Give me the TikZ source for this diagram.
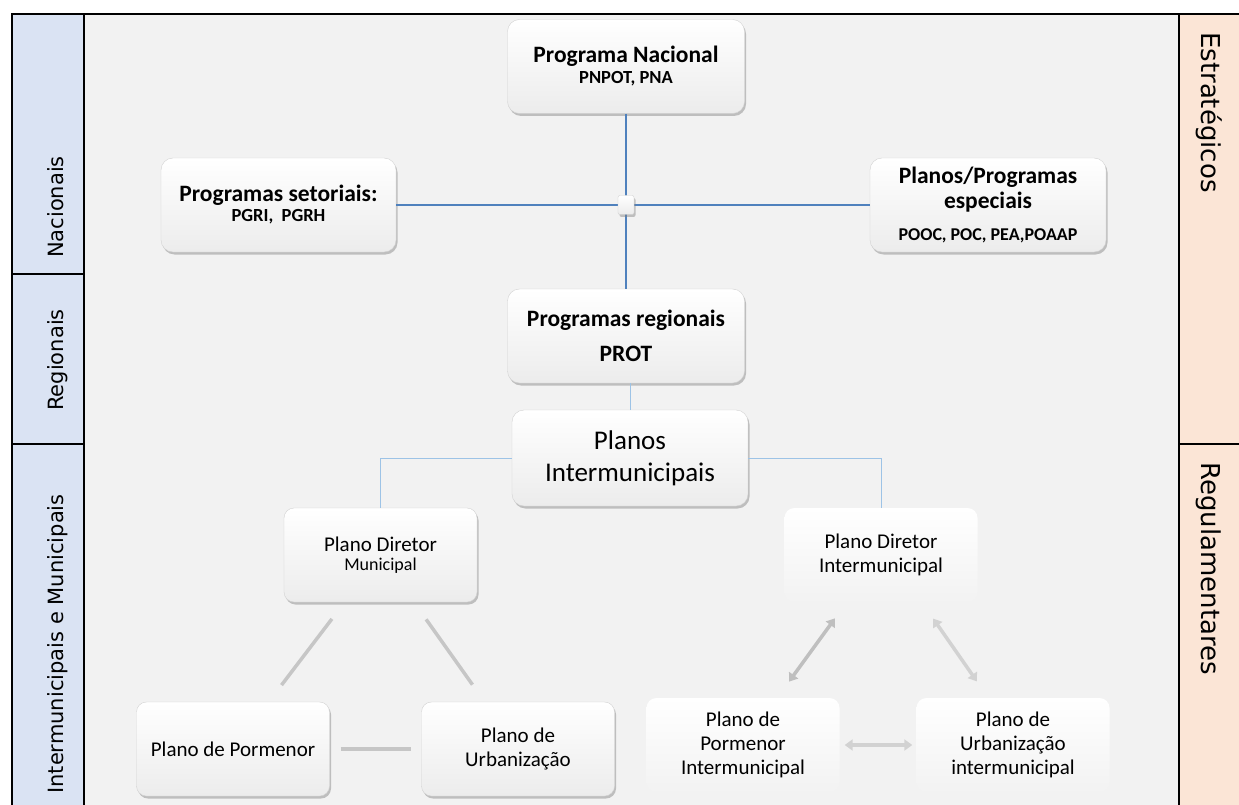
\documentclass[tikz,border=0pt]{standalone}
\usepackage{fontspec}
\setmainfont{Carlito}
\newfontfamily\ladofont{DejaVu Sans}
\usetikzlibrary{arrows.meta, shadows}

\definecolor{colesq}{HTML}{DAE3F3}
\definecolor{coldir}{HTML}{FBE5D6}
\definecolor{colmeio}{HTML}{F2F2F2}
\definecolor{azul}{HTML}{4F81BD}
\definecolor{azulclaro}{HTML}{9DC3E6}

\begin{document}
\begin{tikzpicture}[x=1pt, y=-1pt,
  caixa/.style={rounded corners=12pt, top color=white, bottom color=gray!15, align=center, inner sep=2pt},
  sombra/.style={draw=gray!35, line width=0.4pt, drop shadow={shadow xshift=1.5pt, shadow yshift=-2.5pt, opacity=0.45}},
  titulo/.style={caixa, sombra, minimum width=237pt, minimum height=94pt, font=\bfseries\fontsize{23.5}{25}\selectfont},
  sub/.style={font=\bfseries\fontsize{18.5}{20}\selectfont},
  plano/.style={caixa, rounded corners=10pt, minimum width=193pt, minimum height=94pt, font=\fontsize{21}{24}\selectfont},
  ligacao/.style={draw=azul, line width=1.2pt},
  ligclara/.style={draw=azulclaro, line width=1pt},
  traco/.style={draw=gray!45, line width=3.5pt, shorten >=21pt, shorten <=21pt},
  seta/.style={draw=gray!45, line width=3.5pt, {Triangle[length=8pt,width=11pt]}-{Triangle[length=8pt,width=11pt]}},
  lado/.style={font=\ladofont\fontsize{21}{25}\selectfont, inner sep=0pt}]
  \useasboundingbox (0,0) rectangle (1239,805);

  %% fundos
  \fill[colesq] (12,14) rectangle (84,805);
  \fill[colmeio] (84,14) rectangle (1179,805);
  \fill[coldir] (1179,14) rectangle (1239,805);

  %% moldura
  \draw[line width=1.5pt] (12,805) -- (12,14) -- (1239,14);
  \draw[line width=1.5pt] (84,14) -- (84,805);
  \draw[line width=1.5pt] (1179,14) -- (1179,805);
  \draw[line width=1.5pt] (12,274) -- (84,274);
  \draw[line width=1.5pt] (12,444) -- (84,444);
  \draw[line width=1.5pt] (1179,444) -- (1239,444);

  %% colunas laterais
  \node[lado, rotate=90, anchor=base] (nac) at (63,207) {Nacionais};
  \node[lado, rotate=90, anchor=base] (reg) at (63,360) {Regionais};
  \node[lado, rotate=90, anchor=base] (mun) at (63,644) {Intermunicipais e Municipais};
  \node[lado, font=\ladofont\fontsize{26}{30}\selectfont, rotate=-90, anchor=base west] (estr) at (1201,32) {Estratégicos};
  \node[lado, font=\ladofont\fontsize{26}{30}\selectfont, rotate=-90, anchor=base west] (regul) at (1201,462) {Regulamentares};

  %% nivel nacional e regional
  \node[titulo] (nacional) at (626,66.5)
    {Programa Nacional\\[-4pt]{\fontsize{18.5}{20}\selectfont PNPOT, PNA}};
  \node[titulo, minimum width=235pt] (setoriais) at (278.5,205)
    {Programas setoriais:\\[-5pt]{\fontsize{18.5}{20}\selectfont PGRI,\ \ PGRH}};
  \node[titulo, minimum width=236pt] (especiais) at (988,205)
    {Planos/Programas\\especiais\\[7pt]{\fontsize{18}{20}\selectfont POOC, POC, PEA,POAAP}};
  \node[titulo] (regionais) at (626,336) {Programas regionais\\[10pt]PROT};

  \draw[ligacao] (nacional) -- (regionais);
  \draw[ligacao] (setoriais) -- (especiais);
  \node[caixa, sombra, rounded corners=2pt, minimum width=16pt, minimum height=19pt, inner sep=0pt]
    (hub) at (nacional.south |- setoriais.east) {};

  %% nivel intermunicipal
  \node[caixa, sombra, minimum width=236pt, minimum height=96pt, font=\fontsize{27}{32}\selectfont]
    (intermun) at (630,458) {Planos\\Intermunicipais};
  \draw[ligclara] (intermun.north) -- (intermun.north |- regionais.south);

  \node[plano, sombra] (pdm) at (380.5,555)
    {Plano Diretor\\[-4.5pt]{\fontsize{18}{20}\selectfont Municipal}};
  \node[plano, bottom color=gray!10] (pdi) at (881,555) {Plano Diretor\\Intermunicipal};
  \draw[ligclara] (intermun.west) -| (pdm.north);
  \draw[ligclara] (intermun.east) -| (pdi.north);

  %% planos municipais
  \node[plano, sombra] (pp) at (233,749) {Plano de Pormenor};
  \node[plano, sombra] (pu) at (518,749) {Plano de\\Urbanização};
  \draw[traco] (pdm) -- (pp);
  \draw[traco] (pdm) -- (pu);
  \draw[traco, shorten <=11pt, shorten >=10pt] (pp) -- (pu);

  %% planos intermunicipais
  \node[plano, bottom color=gray!10] (ppi) at (743,745) {Plano de\\Pormenor\\Intermunicipal};
  \node[plano, bottom color=gray!10] (pui) at (1013,745) {Plano de\\Urbanização\\intermunicipal};
  \draw[seta, draw=gray!50, shorten <=20pt, shorten >=20pt] (pdi) -- (ppi);
  \draw[seta, draw=gray!35, shorten <=20pt, shorten >=20pt, transform canvas={xshift=8pt}] (pdi) -- (pui);
  \draw[seta, draw=gray!35, shorten <=5pt, shorten >=4pt] (ppi) -- (pui);
\end{tikzpicture}
\end{document}
